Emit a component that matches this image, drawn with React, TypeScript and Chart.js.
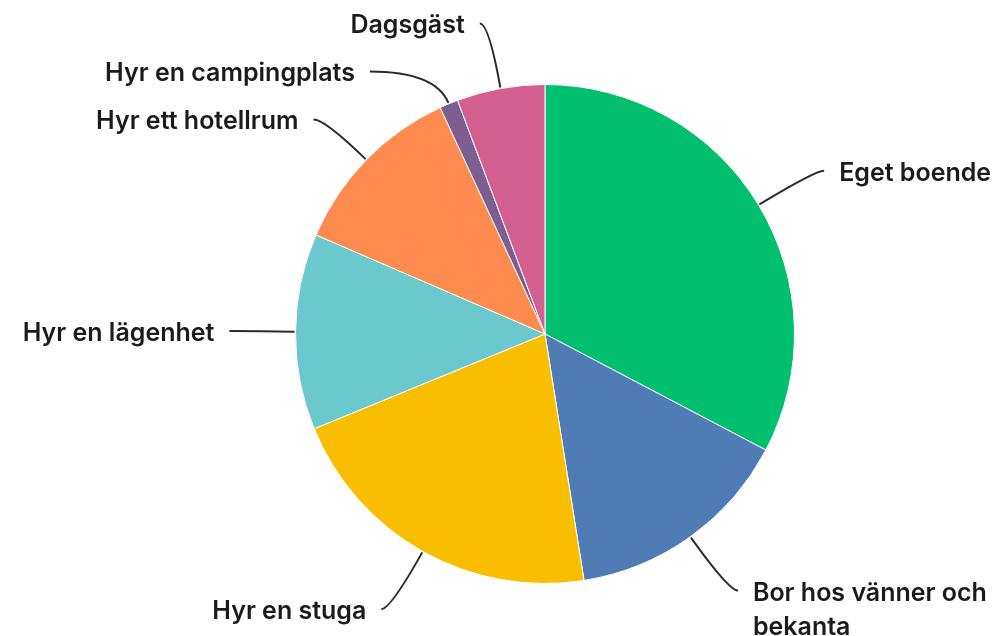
import React, { useEffect, useRef } from "react";
import { Chart, registerables } from "chart.js";

Chart.register(...registerables);

const categories = [
  "Eget boende",
  "Bor hos vänner och bekanta",
  "Hyr en stuga",
  "Hyr en lägenhet",
  "Hyr ett hotellrum",
  "Hyr en campingplats",
  "Dagsgäst",
];
const values = [32.7, 14.8, 21.3, 12.7, 11.6, 1.2, 5.7];
const colors = ["#00BF6F", "#507CB6", "#F9BE00", "#6BC8CD", "#FF8B4F", "#7D5E90", "#D25F90"];

const FONT = '600 25px Inter, "Noto Sans", sans-serif';

const outsideLabels = {
  id: "outsideLabels",
  afterDatasetsDraw(chart: any) {
    const ctx = chart.ctx;
    const meta = chart.getDatasetMeta(0);
    const labels = chart.data.labels as string[];
    const items: any[] = [];
    meta.data.forEach((arc: any, i: number) => {
      const { x, y, startAngle, endAngle, outerRadius } = arc.getProps(
        ["x", "y", "startAngle", "endAngle", "outerRadius"],
        true
      );
      const mid = (startAngle + endAngle) / 2;
      const R = outerRadius * 1.265;
      items.push({
        i,
        cx: x,
        cy: y,
        r: outerRadius,
        R,
        mid,
        ex: x + Math.cos(mid) * R,
        ey: y + Math.sin(mid) * R,
        right: Math.cos(mid) >= -0.001,
      });
    });
    const spacing = 48;
    [true, false].forEach((side) => {
      const group = items.filter((it) => it.right === side).sort((a, b) => a.ey - b.ey);
      for (let k = 1; k < group.length; k++) {
        const prev = group[k - 1];
        const cur = group[k];
        if (cur.ey < prev.ey + spacing) {
          cur.ey = prev.ey + spacing;
          const dy = cur.ey - cur.cy;
          const dx = Math.sqrt(Math.max(cur.R * cur.R - dy * dy, 0));
          cur.ex = cur.cx + (side ? dx : -dx);
        }
      }
    });
    ctx.save();
    ctx.font = FONT;
    ctx.textBaseline = "alphabetic";
    items.forEach((it) => {
      const cosm = Math.cos(it.mid);
      const sinm = Math.sin(it.mid);
      const sx = it.cx + cosm * (it.r + 1);
      const sy = it.cy + sinm * (it.r + 1);
      const dir = it.right ? 1 : -1;
      let qx: number, qy: number;
      if (Math.abs(sinm) > 0.05) {
        const t = (it.ey - sy) / sinm;
        qx = sx + cosm * t;
        qy = it.ey;
      } else {
        qx = (sx + it.ex) / 2;
        qy = it.ey;
      }
      let ex = it.ex;
      if ((ex - qx) * dir < 9) ex = qx + dir * 9;
      ctx.beginPath();
      ctx.moveTo(sx, sy);
      ctx.quadraticCurveTo(qx, qy, ex, it.ey);
      ctx.strokeStyle = "#2b2b2b";
      ctx.lineWidth = 2;
      ctx.stroke();

      const text = labels[it.i];
      const tx = ex + dir * 15;
      const avail = it.right ? chart.width - tx - 2 : tx - 2;
      const words = text.split(" ");
      const lines: string[] = [];
      let line = "";
      words.forEach((w) => {
        const test = line ? line + " " + w : w;
        if (ctx.measureText(test).width > avail && line) {
          lines.push(line);
          line = w;
        } else line = test;
      });
      if (line) lines.push(line);
      ctx.fillStyle = "#1b1b1b";
      ctx.textAlign = it.right ? "left" : "right";
      lines.forEach((l, li) => {
        ctx.fillText(l, tx, it.ey + 10 + li * 34);
      });
    });
    ctx.restore();
  },
};

export default function App() {
  const ref = useRef<HTMLCanvasElement>(null);
  useEffect(() => {
    document.body.style.margin = "0";
    const chart = new Chart(ref.current!, {
      type: "pie",
      data: {
        labels: categories,
        datasets: [
          {
            data: values,
            backgroundColor: colors,
            borderColor: "#ffffff",
            borderWidth: 1,
          },
        ],
      },
      options: {
        animation: false,
        responsive: false,
        layout: { padding: { left: 295, right: 204, top: 84, bottom: 52 } },
        plugins: {
          legend: { display: false },
          tooltip: { enabled: false },
        },
      },
      plugins: [outsideLabels],
    });
    return () => chart.destroy();
  }, []);
  return (
    <div style={{ width: 999, height: 636 }}>
      <canvas ref={ref} width={999} height={636} style={{ display: "block" }} />
    </div>
  );
}
